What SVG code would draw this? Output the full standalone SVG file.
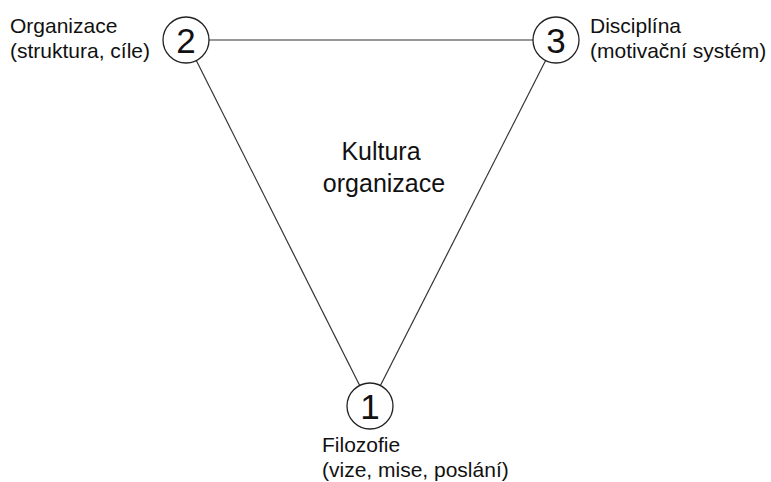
<svg xmlns="http://www.w3.org/2000/svg" width="771" height="482" viewBox="0 0 771 482">
  <style>
    .edge { stroke: #333; stroke-width: 1.2; fill: none; }
    .ring { fill: #fff; stroke: #222; stroke-width: 1.3; }
    .num { font-family: "Liberation Sans", Arial, sans-serif; font-size: 35px; fill: #111; text-anchor: middle; }
    .lbl { font-family: "Liberation Sans", Arial, sans-serif; font-size: 21px; fill: #111; }
    .title { font-family: "Liberation Sans", Arial, sans-serif; font-size: 25px; fill: #111; text-anchor: middle; }
  </style>
  <rect width="771" height="482" fill="#fff"/>

  <g id="connectors">
    <line class="edge" x1="186" y1="40" x2="556" y2="40"/>
    <line class="edge" x1="186" y1="40" x2="370" y2="406"/>
    <line class="edge" x1="556" y1="40" x2="370" y2="406"/>
  </g>

  <g id="center-label">
    <text class="title" x="381" y="160">Kultura</text>
    <text class="title" x="384" y="192">organizace</text>
  </g>

  <g id="node-2">
    <circle class="ring" cx="186" cy="40" r="23"/>
    <text class="num" x="186" y="52.5">2</text>
    <text class="lbl" x="10" y="33">Organizace</text>
    <text class="lbl" x="10" y="58">(struktura, cíle)</text>
  </g>

  <g id="node-3">
    <circle class="ring" cx="556" cy="40" r="23"/>
    <text class="num" x="556" y="52.5">3</text>
    <text class="lbl" x="590" y="33">Disciplína</text>
    <text class="lbl" x="590" y="58">(motivační systém)</text>
  </g>

  <g id="node-1">
    <circle class="ring" cx="370" cy="406" r="23"/>
    <text class="num" x="370" y="418.5">1</text>
    <text class="lbl" x="322" y="452">Filozofie</text>
    <text class="lbl" x="322" y="477">(vize, mise, poslání)</text>
  </g>
</svg>
